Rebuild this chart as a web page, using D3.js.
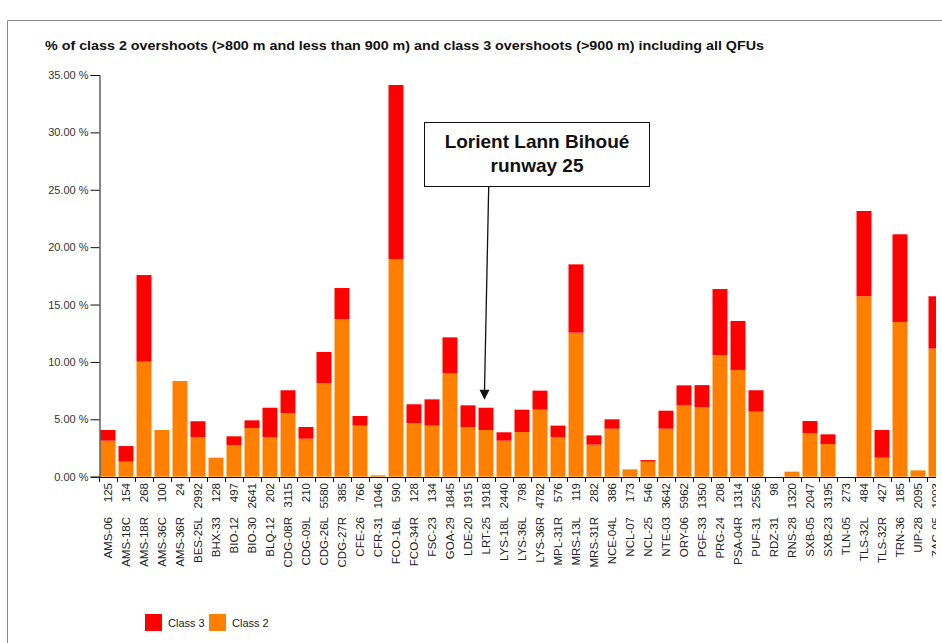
<!DOCTYPE html>
<html><head><meta charset="utf-8">
<script src="https://cdn.jsdelivr.net/npm/d3@7"></script>
<style>body{margin:0;background:#fff}svg{display:block;font-family:"Liberation Sans",Arial,sans-serif}</style>
</head><body><svg id="c" width="942" height="643"></svg>
<script>
const categories = ["AMS-06","AMS-18C","AMS-18R","AMS-36C","AMS-36R","BES-25L","BHX-33","BIO-12","BIO-30","BLQ-12","CDG-08R","CDG-09L","CDG-26L","CDG-27R","CFE-26","CFR-31","FCO-16L","FCO-34R","FSC-23","GOA-29","LDE-20","LRT-25","LYS-18L","LYS-36L","LYS-36R","MPL-31R","MRS-13L","MRS-31R","NCE-04L","NCL-07","NCL-25","NTE-03","ORY-06","PGF-33","PRG-24","PSA-04R","PUF-31","RDZ-31","RNS-28","SXB-05","SXB-23","TLN-05","TLS-32L","TLS-32R","TRN-36","UIP-28","ZAG-05"];
const counts = ["125","154","268","100","24","2992","128","497","2641","202","3115","210","5580","385","766","1046","590","128","134","1845","1915","1918","2440","798","4782","576","119","282","386","173","546","3642","5962","1350","208","1314","2556","98","1320","2047","3195","273","484","427","185","2095","1003"];
const class2 = [3.14,1.31,10.02,4.07,8.34,3.43,1.66,2.76,4.24,3.43,5.55,3.31,8.16,13.74,4.45,0.12,18.97,4.65,4.45,9.0,4.33,4.07,3.14,3.89,5.84,3.43,12.55,2.79,4.18,0.64,1.31,4.18,6.22,6.04,10.6,9.3,5.67,0,0.44,3.78,2.85,0,15.72,1.66,13.48,0.55,11.16];
const class3 = [0.93,1.36,7.55,0,0,1.40,0,0.76,0.67,2.58,1.98,1.02,2.71,2.70,0.84,0,15.16,1.66,2.29,3.14,1.89,1.94,0.73,1.95,1.66,1.02,5.95,0.81,0.82,0,0.14,1.57,1.74,1.94,5.75,4.27,1.86,0,0,1.07,0.84,0,7.43,2.41,7.64,0,4.56];
const yTicks = [0,5,10,15,20,25,30,35];
const title = "% of class 2 overshoots (>800 m and less than 900 m) and class 3 overshoots (>900 m) including all QFUs";
const legendItems = [{name:"Class 3",color:"#ff0000"},{name:"Class 2",color:"#ff8000"}];

const svg = d3.select("#c");
// frame
svg.append("path").attr("d","M7.5,643 V20.5 H942").attr("fill","none").attr("stroke","#888").attr("stroke-width",1);
svg.append("text").attr("x",45).attr("y",50).attr("font-size",13).attr("font-weight","bold").attr("fill","#111")
  .attr("textLength",719).attr("lengthAdjust","spacingAndGlyphs").text(title);

const x = d3.scaleBand().domain(categories).range([99, 99+18*categories.length]).paddingInner(1/6).paddingOuter(1/12);
const y = d3.scaleLinear().domain([0,35]).range([476.7,75]);

svg.append("defs").append("clipPath").attr("id","clip").append("rect").attr("x",0).attr("y",0).attr("width",936).attr("height",643);
const g = svg.append("g").attr("clip-path","url(#clip)");

const data = categories.map((c,i)=>({c, n:counts[i], a:class2[i], b:class3[i]}));
g.selectAll("rect.c2").data(data).join("rect").attr("class","c2")
  .attr("x",d=>x(d.c)).attr("width",x.bandwidth())
  .attr("y",d=>y(d.a)).attr("height",d=>y(0)-y(d.a)).attr("fill","#ff8000");
g.selectAll("rect.c3").data(data.filter(d=>d.b>0)).join("rect").attr("class","c3")
  .attr("x",d=>x(d.c)).attr("width",x.bandwidth())
  .attr("y",d=>y(d.a+d.b)).attr("height",d=>y(d.a)-y(d.a+d.b)).attr("fill","#ff0000");

// y axis
const ya = svg.append("g").attr("transform","translate(99.5,0)")
  .call(d3.axisLeft(y).tickValues(yTicks).tickSize(9).tickPadding(2).tickFormat(d=>d3.format(".2f")(d)+" %"));
ya.select(".domain").attr("stroke","#111");
ya.selectAll(".tick line").attr("stroke","#111");
ya.selectAll("text").attr("font-size",11).attr("fill","#333").attr("font-family","Liberation Sans, Arial, sans-serif");

// x axis line & ticks
g.append("line").attr("x1",99).attr("x2",942).attr("y1",477.5).attr("y2",477.5).attr("stroke","#111");
g.selectAll("line.xt").data(d3.range(categories.length+1)).join("line").attr("class","xt")
  .attr("x1",i=>99.5+x.step()*i).attr("x2",i=>99.5+x.step()*i).attr("y1",477).attr("y2",482).attr("stroke","#111");

// x labels
const lab = g.selectAll("g.lab").data(data).join("g").attr("class","lab")
  .attr("transform",d=>`translate(${x(d.c)+x.bandwidth()/2},0)`);
lab.append("text").attr("transform","translate(0,483) rotate(-90)").attr("text-anchor","end").attr("dy","0.35em")
  .attr("font-size",11.5).attr("fill","#222").text(d=>d.n);
lab.append("text").attr("transform","translate(0,517) rotate(-90)").attr("text-anchor","end").attr("dy","0.35em")
  .attr("font-size",11.5).attr("fill","#222").text(d=>d.c);

// annotation
const ann = svg.append("g");
ann.append("rect").attr("x",424.5).attr("y",122.5).attr("width",225).attr("height",64).attr("fill","#fff").attr("stroke","#111").attr("stroke-width",1);
ann.append("text").attr("x",537).attr("y",148).attr("text-anchor","middle").attr("font-size",19).attr("font-weight","bold").attr("fill","#111").text("Lorient Lann Bihoué");
ann.append("text").attr("x",537).attr("y",172).attr("text-anchor","middle").attr("font-size",19).attr("font-weight","bold").attr("fill","#111").text("runway 25");
const tipX = x("LRT-25")+x.bandwidth()/2 - 1.5, tipY = y(6.01)-8;
ann.append("line").attr("x1",488.7).attr("y1",187).attr("x2",tipX).attr("y2",tipY-9).attr("stroke","#111").attr("stroke-width",1.3);
ann.append("path").attr("d",`M${tipX},${tipY} L${tipX-5},${tipY-10} L${tipX+5},${tipY-10} Z`).attr("fill","#111");

// legend
const lg = svg.append("g");
legendItems.forEach((it,i)=>{
  const lx = 145 + i*64;
  lg.append("rect").attr("x",lx).attr("y",614).attr("width",17).attr("height",17).attr("fill",it.color);
  lg.append("text").attr("x",lx+23).attr("y",626.5).attr("font-size",11).attr("fill","#222").text(it.name);
});
</script></body></html>
